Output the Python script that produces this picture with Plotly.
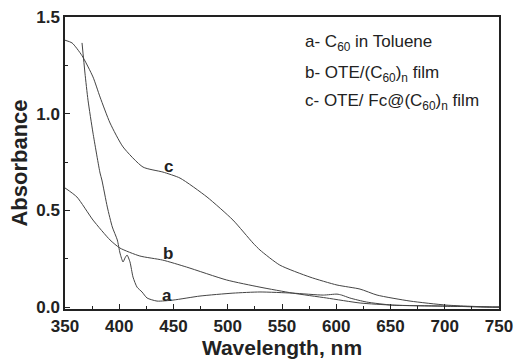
import plotly.graph_objects as go

# Curve a: C60 in toluene
a_x = [365.7, 368.4, 371.2, 375.8, 382.3, 384, 389, 393.6, 398.2, 400.7, 403.5, 405.3, 407.2, 409.9,
       412.7, 416.4, 421, 425.6, 434.8, 449.5, 474.4, 504.8, 529.7, 560, 588, 600.7, 605, 612.5,
       628, 652, 698, 744, 750]
a_y = [1.366, 1.21, 1.07, 0.90, 0.693, 0.657, 0.517, 0.414, 0.347, 0.279, 0.233, 0.254, 0.269, 0.233,
       0.155, 0.103, 0.078, 0.047, 0.031, 0.036, 0.057, 0.072, 0.078, 0.072, 0.062, 0.067, 0.062, 0.047,
       0.026, 0.010, 0.005, 0.0, 0.0]

# Curve b: OTE/(C60)n film
b_x = [350, 361, 375.8, 391.5, 400.7, 419, 440, 462, 499, 529.7, 560, 591, 622, 652, 698, 744, 750]
b_y = [0.616, 0.569, 0.45, 0.347, 0.305, 0.264, 0.243, 0.207, 0.14, 0.103, 0.072, 0.047, 0.021,
       0.010, 0.005, 0.0, 0.0]

# Curve c: OTE/Fc@(C60)n film
c_x = [350, 356.5, 365.7, 375.8, 382.3, 391.5, 403.5, 421.9, 440.3, 456, 480.9, 504.8, 523.3, 529.7,
       548, 575.8, 600.7, 621.9, 637.6, 668, 702, 744, 750]
c_y = [1.38, 1.366, 1.30, 1.19, 1.086, 0.952, 0.828, 0.724, 0.698, 0.667, 0.569, 0.45, 0.331, 0.295,
       0.217, 0.155, 0.114, 0.093, 0.062, 0.031, 0.010, 0.0, 0.0]

x_ticks = [350, 400, 450, 500, 550, 600, 650, 700, 750]
y_ticks = [0.0, 0.5, 1.0, 1.5]

labels = ["a", "b", "c"]
label_x = [444, 445, 445]
label_y = [0.06, 0.275, 0.725]

legend_lines = ["a- C<sub>60</sub> in Toluene",
                "b- OTE/(C<sub>60</sub>)<sub>n</sub> film",
                "c- OTE/ Fc@(C<sub>60</sub>)<sub>n</sub> film"]

FONT = "Liberation Sans, Arial"
INK = "#222222"
line_style = dict(color="#444444", width=1)
fig = go.Figure()
for xs, ys in [(a_x, a_y), (b_x, b_y), (c_x, c_y)]:
    fig.add_trace(go.Scatter(x=xs, y=ys, mode="lines", line=dict(line_style, shape="spline", smoothing=0.6),
                             showlegend=False, hoverinfo="skip"))

for t, x, y in zip(labels, label_x, label_y):
    fig.add_annotation(x=x, y=y, text="<b>" + t + "</b>", showarrow=False, xanchor="center", yanchor="middle",
                       font=dict(family=FONT, size=17, color=INK), xref="x", yref="y")

# legend text positions in pixels (plot area spans x 65..499, y 17..309)
leg_y = [43, 74, 102]
for t, py in zip(legend_lines, leg_y):
    fig.add_annotation(x=(303 - 65) / 434, y=(309 - py) / 292, xref="paper", yref="paper", text=t,
                       showarrow=False, xanchor="left", yanchor="middle",
                       font=dict(family=FONT, size=17, color=INK))

axis_common = dict(
    showgrid=False, zeroline=False, showline=True, linecolor=INK, linewidth=1.5, mirror=True,
    ticks="inside", ticklen=5, tickwidth=1.2, tickcolor=INK, automargin=False,
    tickfont=dict(family=FONT, size=17, color=INK),
)
fig.update_xaxes(**axis_common, range=[350, 750], tickvals=x_ticks,
                 ticktext=["<b>%d</b>" % v for v in x_ticks], ticklabelstandoff=1,
                 minor=dict(ticks="inside", ticklen=3, tickcolor=INK, dtick=25, tick0=350),
                 title=dict(text="<b>Wavelength, nm</b>", standoff=4,
                            font=dict(family=FONT, size=21, color=INK)))
fig.update_yaxes(**axis_common, range=[-0.01, 1.5], tickvals=y_ticks,
                 ticktext=["<b>%.1f</b>" % v for v in y_ticks],
                 minor=dict(ticks="inside", ticklen=3, tickcolor=INK, dtick=0.25, tick0=0),
                 title=dict(text="<b>Absorbance</b>", standoff=3,
                            font=dict(family=FONT, size=22, color=INK)))

fig.update_layout(width=519, height=360, margin=dict(l=65, r=20, t=17, b=51),
                  plot_bgcolor="white", paper_bgcolor="white")
fig.write_html("out.html", config={"displayModeBar": False},
               post_script="document.body.style.margin='0';")
